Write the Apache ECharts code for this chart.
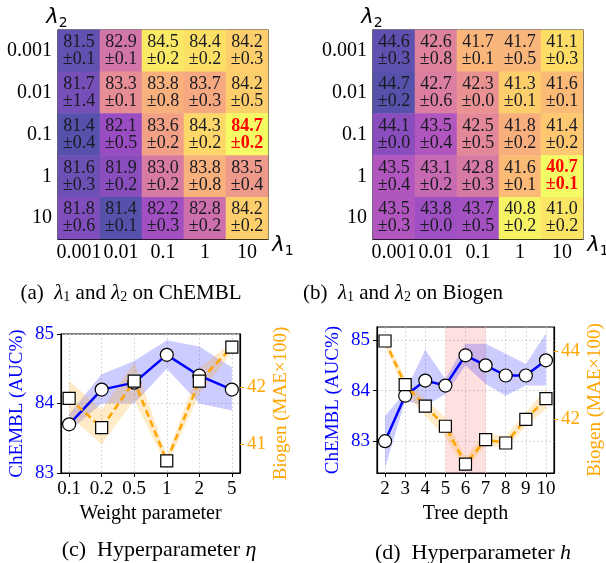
<!DOCTYPE html>
<html>
<head>
<meta charset="utf-8">
<script src="https://cdn.jsdelivr.net/npm/echarts@6/dist/echarts.min.js"></script>
<style>
html, body { margin: 0; padding: 0; background: #fff; }
#chart { width: 606px; height: 563px; }
</style>
</head>
<body>
<div id="chart"></div>
<script>
// heatmap tick labels (lambda1 across, lambda2 down)
const lambdaTicks = ["0.001", "0.01", "0.1", "1", "10"];

// rows = lambda2, cols = lambda1
const chemblMean = [
  [81.5, 82.9, 84.5, 84.4, 84.2],
  [81.7, 83.3, 83.8, 83.7, 84.2],
  [81.4, 82.1, 83.6, 84.3, 84.7],
  [81.6, 81.9, 83.0, 83.8, 83.5],
  [81.8, 81.4, 82.2, 82.8, 84.2],
];
const chemblStd = [
  [0.1, 0.1, 0.2, 0.2, 0.3],
  [1.4, 0.1, 0.8, 0.3, 0.5],
  [0.4, 0.5, 0.2, 0.2, 0.2],
  [0.3, 0.2, 0.2, 0.8, 0.4],
  [0.6, 0.1, 0.3, 0.2, 0.2],
];
const biogenMean = [
  [44.6, 42.6, 41.7, 41.7, 41.1],
  [44.7, 42.7, 42.3, 41.3, 41.6],
  [44.1, 43.5, 42.5, 41.8, 41.4],
  [43.5, 43.1, 42.8, 41.6, 40.7],
  [43.5, 43.8, 43.7, 40.8, 41.0],
];
const biogenStd = [
  [0.3, 0.8, 0.1, 0.5, 0.3],
  [0.2, 0.6, 0.0, 0.1, 0.1],
  [0.0, 0.4, 0.5, 0.2, 0.2],
  [0.4, 0.2, 0.3, 0.1, 0.1],
  [0.3, 0.0, 0.5, 0.2, 0.2],
];

// (c) weight parameter eta
const etaLabels = ["0.1", "0.2", "0.5", "1", "2", "5"];
const etaX = [0, 1, 2, 3, 4, 5];
const etaChembl = [83.7, 84.2, 84.3, 84.7, 84.4, 84.2];
const etaChemblLo = [83.6, 84.0, 84.0, 84.5, 84.0, 83.9];
const etaChemblHi = [83.85, 84.42, 84.61, 84.91, 84.82, 84.52];
const etaBiogen = [41.8, 41.29, 42.1, 40.71, 42.1, 42.69];
const etaBiogenLo = [41.5, 41.0, 41.77, 40.62, 41.88, 42.6];
const etaBiogenHi = [42.1, 41.6, 42.43, 40.8, 42.32, 42.78];

// (d) tree depth h
const depthX = [2, 3, 4, 5, 6, 7, 8, 9, 10];
const depthChembl = [83.0, 83.9, 84.2, 84.1, 84.7, 84.5, 84.3, 84.3, 84.6];
const depthChemblLo = [82.47, 83.8, 83.7, 83.93, 84.5, 84.13, 83.9, 84.1, 84.1];
const depthChemblHi = [83.5, 83.97, 84.81, 84.23, 84.93, 84.93, 84.73, 84.53, 85.13];
const depthBiogen = [44.3, 43.02, 42.39, 41.8, 40.69, 41.41, 41.31, 42.0, 42.61];
const depthBiogenLo = [44.15, 42.8, 42.1, 41.5, 40.5, 41.25, 41.15, 41.8, 42.3];
const depthBiogenHi = [44.45, 43.2, 42.6, 42.05, 40.9, 41.6, 41.5, 42.2, 42.9];

const SERIF = '"Liberation Serif", "Times New Roman", serif';
const BLUE = "#0000ff";
const ORANGE = "#ffa500";
// plasma, alpha 0.7 on white
const plasma = ["#5652ab", "#7a4fba", "#974cc2", "#b156bf", "#c86ab1", "#db7ea0",
  "#ea9291", "#f6a981", "#fdc172", "#fddd66", "#f4fb64"];

function heatData(mean) {
  const out = [];
  mean.forEach((row, r) => row.forEach((v, c) => out.push([c, r, v])));
  return out;
}
function bestCell(mean, useMax) {
  let best = [0, 0];
  mean.forEach((row, r) => row.forEach((v, c) => {
    const b = mean[best[0]][best[1]];
    if (useMax ? v > b : v < b) best = [r, c];
  }));
  return best;
}
function cellLabel(mean, std, best) {
  return (p) => {
    const c = p.data[0], r = p.data[1];
    const m = mean[r][c].toFixed(1), s = std[r][c].toFixed(1);
    const k = r === best[0] && c === best[1] ? "b" : "n";
    return `{${k}|${m}}\n{${k}|±${s}}`;
  };
}

const cellRich = {
  n: { fontFamily: SERIF, fontSize: 18, color: "#1a1a22", lineHeight: 17 },
  b: { fontFamily: SERIF, fontSize: 18, color: "#ff0000", fontWeight: "bold", lineHeight: 17 },
};

function heatAxis(gi, isY) {
  return {
    type: "category", gridIndex: gi, data: lambdaTicks, inverse: isY,
    axisLine: { onZero: false, lineStyle: { color: "#000", width: 1 } },
    axisTick: { alignWithLabel: true, length: 4, lineStyle: { color: "#000" } },
    axisLabel: { interval: 0, fontFamily: SERIF, fontSize: 20, color: "#000", margin: isY ? 6 : 4 },
    splitLine: { show: false },
  };
}

const dotted = { show: true, lineStyle: { color: "#cfcfcf", width: 0.8, type: [2, 2] } };

function lineX(gi, min, max, ticks, fmt, name) {
  return {
    type: "value", gridIndex: gi, min, max,
    name, nameLocation: "middle", nameGap: 31,
    nameTextStyle: { fontFamily: SERIF, fontSize: 20, color: "#000" },
    axisLine: { onZero: false, lineStyle: { color: "#000", width: 1.2 } },
    axisTick: { customValues: ticks, length: 4, lineStyle: { color: "#000" } },
    axisLabel: { customValues: ticks, formatter: fmt, fontFamily: SERIF, fontSize: 19, color: "#000", margin: 7 },
    splitLine: dotted,
  };
}
function lineY(gi, min, max, ticks, color, name, pos, grid) {
  return {
    type: "value", gridIndex: gi, min, max, position: pos,
    name, nameLocation: "middle", nameGap: pos === "left" ? 34 : 32, nameRotate: 90,
    nameTextStyle: { fontFamily: SERIF, fontSize: 19, color },
    axisLine: { show: true, onZero: false, lineStyle: { color: "#000", width: 1.2 } },
    axisTick: { customValues: ticks, length: 4, lineStyle: { color: pos === "left" ? "#000" : color } },
    axisLabel: { customValues: ticks, fontFamily: SERIF, fontSize: 19, color, margin: 7 },
    splitLine: grid ? dotted : { show: false },
  };
}

// shaded spread drawn as one polygon through the axes' coord()
function band(xs, lo, hi, xi, yi, color) {
  return {
    type: "custom", xAxisIndex: xi, yAxisIndex: yi, silent: true, z: 1,
    data: xs.map((x, i) => [x, lo[i], hi[i]]),
    encode: { x: 0, y: [1, 2] },
    renderItem: (params, api) => {
      if (params.dataIndex !== 0) return null;
      const pts = [];
      xs.forEach((x, i) => pts.push(api.coord([x, hi[i]])));
      for (let i = xs.length - 1; i >= 0; i--) pts.push(api.coord([xs[i], lo[i]]));
      return { type: "polygon", shape: { points: pts }, style: { fill: color } };
    },
  };
}
function mainLine(xs, ys, xi, yi, isChembl) {
  return {
    type: "line", xAxisIndex: xi, yAxisIndex: yi, z: isChembl ? 3 : 4,
    symbol: isChembl ? "circle" : "rect", symbolSize: isChembl ? 13 : 12,
    itemStyle: { color: "#fff", borderColor: "#000", borderWidth: 1.2 },
    lineStyle: isChembl ? { color: BLUE, width: 2.5 } : { color: ORANGE, width: 2.5, type: [7, 4] },
    data: xs.map((x, i) => [x, ys[i]]),
  };
}

const gridBox = { show: true, borderColor: "#000", borderWidth: 1.2, backgroundColor: "transparent" };

function caption(text, x, y, size) {
  return {
    type: "text", x, y,
    style: {
      text, align: "center", verticalAlign: "middle",
      rich: {
        t: { fontFamily: SERIF, fontSize: size, color: "#000" },
        i: { fontFamily: SERIF, fontSize: size, color: "#000", fontStyle: "italic" },
        s: { fontFamily: SERIF, fontSize: size - 7, color: "#000", padding: [9, 0, 0, 0] },
      },
    },
  };
}
function lambdaLabel(sub, x, y) {
  return {
    type: "text", x, y,
    style: {
      text: `{l|λ}{s|${sub}}`, align: "center", verticalAlign: "middle",
      rich: {
        l: { fontFamily: "DejaVu Sans", fontSize: 21, fontStyle: "italic", color: "#000" },
        s: { fontFamily: "DejaVu Sans", fontSize: 14, color: "#000", padding: [10, 0, 0, 0] },
      },
    },
  };
}

const chart = echarts.init(document.getElementById("chart"));
const option = {
  animation: false,
  grid: [
    Object.assign({ left: 58, top: 30, width: 210, height: 209 }, gridBox),
    Object.assign({ left: 373, top: 30, width: 210, height: 209 }, gridBox),
    Object.assign({ left: 61, top: 334, width: 179, height: 139 }, gridBox),
    Object.assign({ left: 377, top: 327, width: 179, height: 146 }, gridBox),
  ],
  xAxis: [
    heatAxis(0, false), heatAxis(1, false),
    lineX(2, -0.25, 5.25, etaX, (v) => etaLabels[Math.round(v)], "Weight parameter"),
    lineX(3, 1.6, 10.4, depthX, (v) => String(v), "Tree depth"),
  ],
  yAxis: [
    heatAxis(0, true), heatAxis(1, true),
    lineY(2, 83, 85, [83, 84, 85], BLUE, "ChEMBL (AUC%)", "left", true),
    lineY(2, 40.5, 42.92, [41, 42], ORANGE, "Biogen (MAE×100)", "right", false),
    lineY(3, 82.37, 85.26, [83, 84, 85], BLUE, "ChEMBL (AUC%)", "left", true),
    lineY(3, 40.43, 44.71, [42, 44], ORANGE, "Biogen (MAE×100)", "right", false),
  ],
  visualMap: [
    { type: "continuous", show: false, seriesIndex: 0, min: 81.4, max: 84.7, inRange: { color: plasma } },
    { type: "continuous", show: false, seriesIndex: 1, min: 40.7, max: 44.7, inRange: { color: plasma.slice().reverse() } },
  ],
  series: [
    { type: "heatmap", xAxisIndex: 0, yAxisIndex: 0, data: heatData(chemblMean),
      label: { show: true, formatter: cellLabel(chemblMean, chemblStd, bestCell(chemblMean, true)), rich: cellRich } },
    { type: "heatmap", xAxisIndex: 1, yAxisIndex: 1, data: heatData(biogenMean),
      label: { show: true, formatter: cellLabel(biogenMean, biogenStd, bestCell(biogenMean, false)), rich: cellRich } },
    band(etaX, etaChemblLo, etaChemblHi, 2, 2, "rgba(0,0,255,0.2)"),
    band(etaX, etaBiogenLo, etaBiogenHi, 2, 3, "rgba(255,165,0,0.22)"),
    mainLine(etaX, etaChembl, 2, 2, true),
    mainLine(etaX, etaBiogen, 2, 3, false),
    { type: "line", xAxisIndex: 3, yAxisIndex: 4, data: [], z: 0,
      markArea: { silent: true, itemStyle: { color: "rgba(255,0,0,0.12)" }, data: [[{ xAxis: 5 }, { xAxis: 7 }]] } },
    band(depthX, depthChemblLo, depthChemblHi, 3, 4, "rgba(0,0,255,0.2)"),
    band(depthX, depthBiogenLo, depthBiogenHi, 3, 5, "rgba(255,165,0,0.22)"),
    mainLine(depthX, depthChembl, 3, 4, true),
    mainLine(depthX, depthBiogen, 3, 5, false),
  ],
  graphic: [
    lambdaLabel("2", 57, 18),
    lambdaLabel("1", 283, 246),
    lambdaLabel("2", 372, 18),
    lambdaLabel("1", 598, 246),
    caption("{t|(a)  }{i|λ}{s|1}{t| and }{i|λ}{s|2}{t| on ChEMBL}", 131, 293, 21),
    caption("{t|(b)  }{i|λ}{s|1}{t| and }{i|λ}{s|2}{t| on Biogen}", 403, 293, 21),
    caption("{t|(c)  Hyperparameter }{i|η}", 159, 550, 22),
    caption("{t|(d)  Hyperparameter }{i|h}", 473, 553, 22),
  ],
};
chart.setOption(option);
</script>
</body>
</html>
